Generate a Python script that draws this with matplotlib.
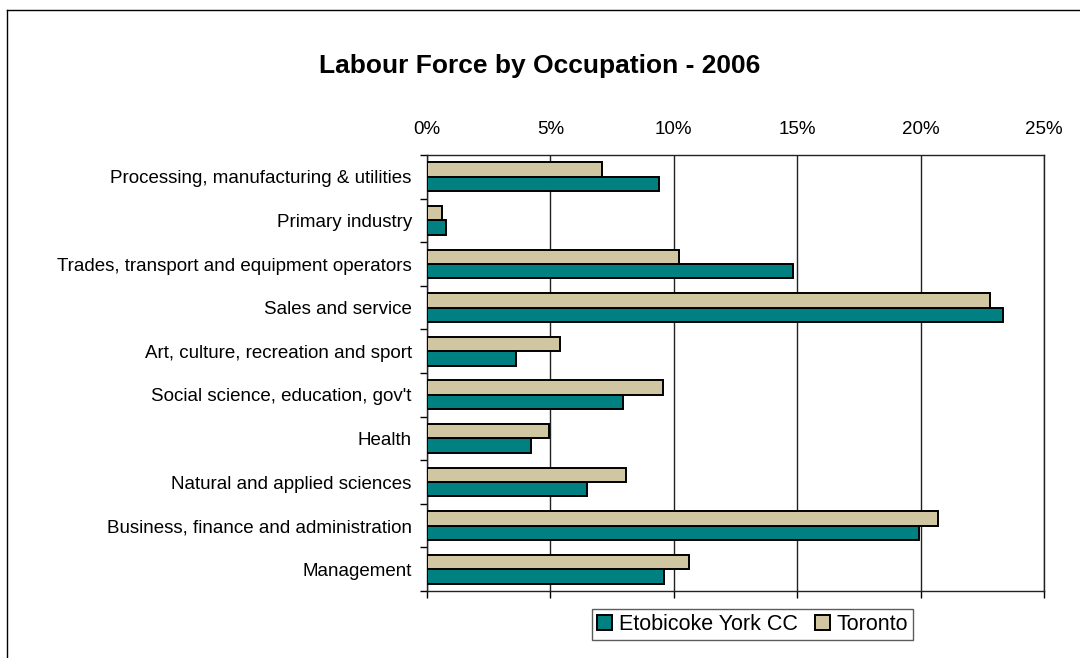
import matplotlib
matplotlib.use('Agg')
import matplotlib.pyplot as plt
from matplotlib.lines import Line2D
import numpy as np

plt.rcParams['font.family'] = ['Liberation Sans', 'DejaVu Sans']

# categories, top to bottom as in the chart
categories = ['Processing, manufacturing & utilities', 'Primary industry',
              'Trades, transport and equipment operators', 'Sales and service',
              'Art, culture, recreation and sport', "Social science, education, gov't",
              'Health', 'Natural and applied sciences',
              'Business, finance and administration', 'Management']
etobicoke = [9.38, 0.78, 14.84, 23.34, 3.62, 7.93, 4.22, 6.5, 19.93, 9.59]
toronto = [7.1, 0.6, 10.2, 22.8, 5.37, 9.56, 4.94, 8.08, 20.72, 10.63]
xticks = [0, 5, 10, 15, 20, 25]

teal = '#008080'
tan = '#D0C6A2'

fig = plt.figure(figsize=(10.8, 6.58), dpi=100)
ax = fig.add_axes([0.3954, 0.1018, 0.9667 - 0.3954, 0.7644 - 0.1018])

y = np.arange(len(categories))
h = 0.33
ax.barh(y + h / 2, etobicoke, height=h, color=teal, edgecolor='black',
        linewidth=1.4, label='Etobicoke York CC', zorder=3)
ax.barh(y - h / 2, toronto, height=h, color=tan, edgecolor='black',
        linewidth=1.4, label='Toronto', zorder=3)

ax.set_xlim(0, 25)
ax.set_ylim(len(categories) - 0.5, -0.5)
ax.set_xticks(xticks)
ax.set_xticklabels([f'{v}%' for v in xticks])
ax.set_yticks(y)
ax.set_yticklabels(categories)
ax.set_yticks(np.arange(len(categories) + 1) - 0.5, minor=True)

ax.tick_params(axis='x', bottom=True, top=False, labelbottom=False, labeltop=True,
               direction='out', length=5, width=1, pad=7.5, labelsize=13.5)
ax.tick_params(axis='y', which='major', left=False, length=0, pad=11, labelsize=13.5)
ax.tick_params(axis='y', which='minor', left=True, direction='out', length=5, width=1)
ax.grid(axis='x', color='#222222', linewidth=1, zorder=0)
for s in ax.spines.values():
    s.set_color('#222222')
    s.set_linewidth(1)

fig.text(0.5, 0.9, 'Labour Force by Occupation - 2006', ha='center', va='center',
         fontsize=19, fontweight='bold')

leg = fig.legend(loc='center', bbox_to_anchor=(0.6968, 0.0509), ncol=2, fontsize=15.5,
                 frameon=True, fancybox=False, edgecolor='#333333', handlelength=0.7,
                 handleheight=0.7, handletextpad=0.3, columnspacing=0.8,
                 borderpad=0.25, borderaxespad=0)
leg.get_frame().set_linewidth(1)

# outer chart frame (only left and top show in the picture)
fig.add_artist(Line2D([0.0065, 0.0065], [0, 0.9848], color='black', linewidth=1,
                      transform=fig.transFigure))
fig.add_artist(Line2D([0.0065, 1], [0.9848, 0.9848], color='black', linewidth=1,
                      transform=fig.transFigure))

fig.savefig('out.png', dpi=100)
